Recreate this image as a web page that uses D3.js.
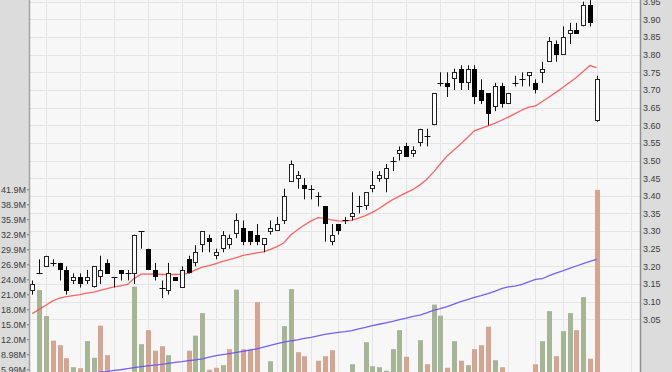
<!DOCTYPE html>
<html>
<head>
<meta charset="utf-8">
<script src="https://cdn.jsdelivr.net/npm/d3@7/dist/d3.min.js"></script>
<style>
  html, body { margin: 0; padding: 0; background: #f7f7f7; overflow: hidden; }
  svg { display: block; }
</style>
</head>
<body>
<div id="chart"></div>
<script>
// --- daily OHLC, one entry per trading day ---
const open  = [3.13,3.18,3.20,3.21,3.21,3.19,3.16,3.17,3.16,3.14,3.17,3.21,3.17,3.19,3.18,3.18,3.30,3.25,3.19,3.14,
               3.13,3.17,3.14,3.22,3.21,3.26,3.28,3.23,3.25,3.26,3.29,3.31,3.30,3.29,3.26,3.30,3.30,3.33,3.44,3.45,
               3.43,3.42,3.40,3.37,3.27,3.32,3.33,3.34,3.37,3.37,3.42,3.45,3.45,3.50,3.52,3.54,3.52,3.55,3.57,3.60,
               3.72,3.72,3.73,3.76,3.72,3.76,3.70,3.69,3.65,3.71,3.66,3.72,3.73,3.74,3.72,3.75,3.78,3.83,3.80,3.86,
               3.87,3.88,3.94,3.61];
const high  = [3.16,3.22,3.23,3.22,3.21,3.20,3.18,3.18,3.19,3.20,3.23,3.22,3.17,3.19,3.19,3.29,3.30,3.25,3.21,3.16,
               3.21,3.17,3.20,3.23,3.26,3.30,3.29,3.25,3.30,3.29,3.35,3.33,3.30,3.32,3.28,3.33,3.34,3.42,3.50,3.47,
               3.45,3.43,3.41,3.37,3.32,3.32,3.34,3.41,3.40,3.41,3.47,3.47,3.49,3.51,3.54,3.55,3.54,3.59,3.59,3.69,
               3.75,3.75,3.76,3.77,3.77,3.77,3.73,3.69,3.72,3.72,3.69,3.74,3.75,3.75,3.73,3.78,3.85,3.84,3.88,3.89,
               3.89,3.95,3.96,3.74];
const low   = [3.12,3.18,3.20,3.20,3.16,3.12,3.15,3.14,3.15,3.14,3.15,3.18,3.14,3.16,3.16,3.15,3.25,3.19,3.16,3.11,
               3.12,3.16,3.14,3.18,3.20,3.24,3.24,3.22,3.24,3.25,3.28,3.26,3.26,3.26,3.24,3.29,3.30,3.32,3.44,3.42,
               3.39,3.39,3.37,3.27,3.26,3.29,3.32,3.33,3.35,3.36,3.41,3.44,3.41,3.47,3.50,3.51,3.51,3.54,3.54,3.60,
               3.71,3.68,3.70,3.70,3.70,3.66,3.66,3.60,3.64,3.65,3.66,3.71,3.71,3.71,3.69,3.72,3.78,3.78,3.80,3.83,
               3.86,3.88,3.88,3.61];
const close = [3.15,3.18,3.23,3.21,3.19,3.13,3.17,3.15,3.17,3.20,3.19,3.18,3.17,3.18,3.18,3.29,3.30,3.19,3.17,3.14,
               3.18,3.16,3.19,3.18,3.24,3.30,3.27,3.24,3.29,3.28,3.33,3.27,3.27,3.27,3.28,3.31,3.32,3.40,3.49,3.46,
               3.42,3.42,3.40,3.32,3.29,3.30,3.33,3.35,3.37,3.41,3.43,3.46,3.48,3.50,3.53,3.51,3.53,3.59,3.57,3.69,
               3.72,3.71,3.75,3.72,3.76,3.68,3.67,3.63,3.71,3.66,3.69,3.72,3.73,3.75,3.70,3.76,3.84,3.80,3.85,3.87,
               3.86,3.94,3.89,3.73];
// volume in millions of shares
const volume = [4.8,21.8,16.6,11.7,10.8,8.2,6.4,6.2,11.6,8.3,14.7,8.8,4.5,3.8,4.2,22.5,11.0,13.8,9.7,10.6,
                8.8,5.0,4.6,9.7,12.7,17.2,5.9,6.3,6.8,10.0,21.9,10.0,9.8,19.4,5.2,7.6,5.0,14.6,22.0,9.4,
                8.6,4.9,7.7,8.6,9.8,4.7,3.9,7.0,5.1,11.4,6.6,6.4,5.7,10.0,13.8,8.5,5.2,11.8,7.0,18.9,
                16.7,6.3,11.6,7.7,6.8,10.0,10.8,14.5,7.8,6.4,4.4,3.6,4.9,5.0,7.0,11.6,17.6,8.6,13.6,17.2,
                13.8,20.4,8.1,41.8];
// moving averages as drawn (short = red, long = blue)
const maShort = [3.066,3.078,3.090,3.102,3.110,3.114,3.117,3.120,3.124,3.127,3.132,3.137,3.142,3.145,3.149,3.166,3.178,3.178,3.179,3.177,
                 3.177,3.177,3.178,3.180,3.190,3.198,3.202,3.208,3.214,3.219,3.225,3.231,3.235,3.238,3.241,3.248,3.256,3.267,3.289,3.304,
                 3.317,3.329,3.338,3.336,3.332,3.329,3.328,3.331,3.337,3.344,3.353,3.364,3.377,3.389,3.399,3.409,3.418,3.431,3.446,3.467,
                 3.490,3.513,3.530,3.547,3.565,3.584,3.591,3.598,3.605,3.614,3.623,3.633,3.643,3.651,3.655,3.667,3.680,3.693,3.707,3.721,
                 3.735,3.752,3.769,3.763];
const maLong  = [2.872,2.875,2.878,2.880,2.883,2.885,2.888,2.890,2.893,2.896,2.900,2.902,2.905,2.907,2.910,2.913,2.916,2.918,2.920,2.922,
                 2.925,2.928,2.930,2.933,2.935,2.938,2.943,2.947,2.950,2.953,2.956,2.959,2.963,2.966,2.971,2.976,2.981,2.985,2.989,2.992,
                 2.996,2.999,3.003,3.007,3.010,3.013,3.015,3.018,3.023,3.027,3.032,3.036,3.040,3.044,3.049,3.053,3.058,3.062,3.068,3.075,
                 3.080,3.086,3.093,3.100,3.106,3.112,3.117,3.123,3.129,3.137,3.142,3.144,3.149,3.156,3.163,3.165,3.174,3.181,3.187,3.194,
                 3.201,3.208,3.214,3.220];
// first trading day of each week (slot index), used for the vertical grid
const weekStarts = [2,7,12,17,22,27,31,36,41,45,50,55,60,65,70,74,78,83,88];
const priceTicks = [3.05,3.10,3.15,3.20,3.25,3.30,3.35,3.40,3.45,3.50,3.55,3.60,3.65,3.70,3.75,3.80,3.85,3.90,3.95];
const volTicks   = [5.988,8.982,11.976,14.97,17.964,20.958,23.952,26.946,29.94,32.934,35.928,38.922,41.916];
const volLabels  = ["5.99M","8.98M","12.0M","15.0M","18.0M","21.0M","24.0M","26.9M","29.9M","32.9M","35.9M","38.9M","41.9M"];

const W = 672, H = 372;
const plotL = 30, plotR = 640;
const slots = 90;

const svg = d3.select('#chart').append('svg')
    .attr('width', W)
    .attr('height', H);

const x = d3.scaleLinear().domain([-0.5, slots - 0.5]).range([28.9, 640.9]);
const y = d3.scaleLinear().domain([3.05, 3.95]).range([319.3, 1.7]);
const yVol = d3.scaleLinear().domain([0, 41.916]).range([399.3, 189.3]);
const px = i => Math.round(x(i));

// plot background
svg.append('rect').attr('x', plotL).attr('y', 0).attr('width', plotR - plotL).attr('height', H).attr('fill', '#f7f7f7');

// grid
const grid = svg.append('g').attr('stroke', '#e5e5e5').attr('stroke-width', 1);
grid.selectAll('line.h').data(priceTicks).enter().append('line')
    .attr('class', 'h')
    .attr('x1', plotL).attr('x2', plotR)
    .attr('y1', d => Math.round(y(d)) + 0.5).attr('y2', d => Math.round(y(d)) + 0.5);
grid.selectAll('line.v').data(weekStarts).enter().append('line')
    .attr('class', 'v')
    .attr('y1', 0).attr('y2', H)
    .attr('x1', d => px(d) + 0.5).attr('x2', d => px(d) + 0.5);

const idx = d3.range(close.length);

// volume bars: green when close is above the previous close
svg.append('g').selectAll('rect').data(idx).enter().append('rect')
    .attr('x', i => px(i) - 2)
    .attr('width', 5)
    .attr('y', i => yVol(volume[i]))
    .attr('height', i => yVol(0) - yVol(volume[i]))
    .attr('fill', i => (i > 0 && close[i] > close[i - 1]) ? '#a5b596' : '#d4a692');

// moving averages
const line = d3.line().x((d, i) => x(i)).y(d => y(d)).curve(d3.curveLinear);
svg.append('path').datum(maLong)
    .attr('d', line).attr('fill', 'none')
    .attr('stroke', '#6650f5').attr('stroke-width', 1.3).attr('stroke-opacity', 0.9);
svg.append('path').datum(maShort)
    .attr('d', line).attr('fill', 'none')
    .attr('stroke', '#ff4a4a').attr('stroke-width', 1.3).attr('stroke-opacity', 0.85);

// candles
const candle = svg.append('g').selectAll('g').data(idx).enter().append('g');
candle.append('line')
    .attr('x1', i => px(i) + 0.5).attr('x2', i => px(i) + 0.5)
    .attr('y1', i => y(high[i])).attr('y2', i => y(low[i]))
    .attr('stroke', '#111').attr('stroke-width', 1);
candle.each(function (i) {
    const g = d3.select(this);
    const top = y(Math.max(open[i], close[i]));
    const bot = y(Math.min(open[i], close[i]));
    const h = bot - top;
    if (h < 1.5) {
        g.append('line')
            .attr('x1', px(i) - 2.5).attr('x2', px(i) + 3.5)
            .attr('y1', Math.round(top) + 0.5).attr('y2', Math.round(top) + 0.5)
            .attr('stroke', '#111').attr('stroke-width', 1);
    } else if (close[i] >= open[i]) {
        g.append('rect')
            .attr('x', px(i) - 1.5).attr('width', 4)
            .attr('y', Math.round(top) + 0.5).attr('height', Math.max(1, Math.round(h) - 1))
            .attr('fill', '#ffffff').attr('stroke', '#222').attr('stroke-width', 1);
    } else {
        g.append('rect')
            .attr('x', px(i) - 2).attr('width', 5)
            .attr('y', Math.round(top)).attr('height', Math.round(h))
            .attr('fill', '#000');
    }
});

// side panels
svg.append('rect').attr('x', 0).attr('y', 0).attr('width', 29).attr('height', H).attr('fill', '#dcdcdc');
svg.append('rect').attr('x', 641).attr('y', 0).attr('width', W - 641).attr('height', H).attr('fill', '#dcdcdc');
svg.append('line').attr('x1', 29.5).attr('x2', 29.5).attr('y1', 0).attr('y2', H).attr('stroke', '#a3a3a3').attr('stroke-width', 1.5);
svg.append('line').attr('x1', 640.5).attr('x2', 640.5).attr('y1', 0).attr('y2', H).attr('stroke', '#8f8f8f').attr('stroke-width', 1.5);

// axes
const volAxis = svg.append('g')
    .attr('transform', 'translate(29,0)')
    .call(d3.axisLeft(yVol).tickValues(volTicks).tickFormat((d, i) => volLabels[i]).tickSize(2).tickPadding(1));
const priceAxis = svg.append('g')
    .attr('transform', 'translate(641,0)')
    .call(d3.axisRight(y).tickValues(priceTicks).tickFormat(d3.format('.2f')).tickSize(0).tickPadding(2));
[volAxis, priceAxis].forEach(a => {
    a.select('.domain').remove();
    a.selectAll('line').attr('stroke', '#777');
    a.selectAll('text')
        .attr('fill', '#3c3c3c')
        .style('font-family', '"Liberation Sans", Arial, sans-serif')
        .style('font-size', '9px');
});
</script>
</body>
</html>
